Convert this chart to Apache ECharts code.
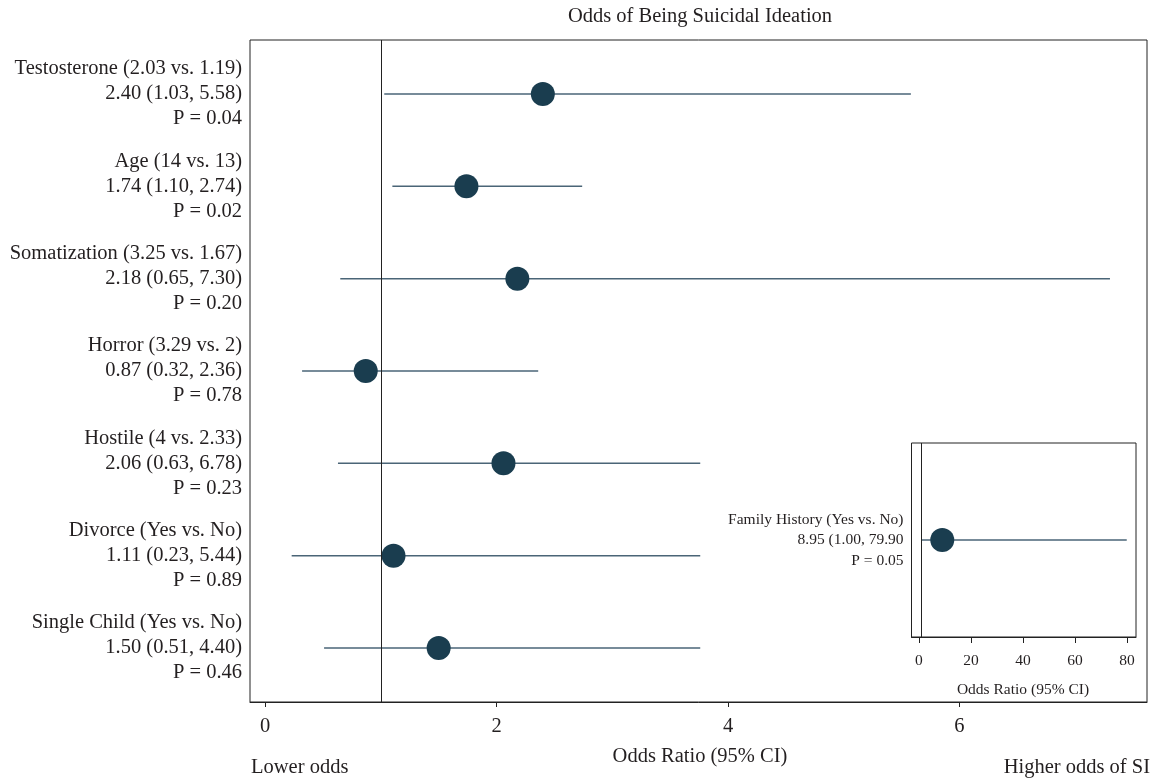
<!DOCTYPE html>
<html>
<head>
<meta charset="utf-8">
<script src="https://cdn.jsdelivr.net/npm/echarts@6/dist/echarts.min.js"></script>
<style>html,body{margin:0;padding:0;background:#fff}#c{width:1156px;height:780px}</style>
</head>
<body>
<div id="c"></div>
<script>
const rowNames = ['Testosterone (2.03 vs. 1.19)', 'Age (14 vs. 13)', 'Somatization (3.25 vs. 1.67)', 'Horror (3.29 vs. 2)', 'Hostile (4 vs. 2.33)', 'Divorce (Yes vs. No)', 'Single Child (Yes vs. No)'];
const oddsRatio = [2.40, 1.74, 2.18, 0.87, 2.06, 1.11, 1.50];
const ciLower = [1.03, 1.10, 0.65, 0.32, 0.63, 0.23, 0.51];
const ciUpper = [5.58, 2.74, 7.30, 2.36, 6.78, 5.44, 4.40];
const drawnUpper = [5.58, 2.74, 7.30, 2.36, 3.76, 3.76, 3.76];
const pValues = ['0.04', '0.02', '0.20', '0.78', '0.23', '0.89', '0.46'];
const mainTicks = [0, 2, 4, 6];

const insetName = 'Family History (Yes vs. No)';
const insetOR = 8.95;
const insetLower = 1.00;
const insetUpper = 79.90;
const insetP = '0.05';
const insetTicks = [0, 20, 40, 60, 80];

const FONT = "'Liberation Serif', 'DejaVu Serif', serif";
const TXT = '#231f20';
const DOT = '#1a3d4f';
const BAR = '#4a6577';
const FS = 20.5;
const FSI = 15.5;

const chart = echarts.init(document.getElementById('c'), null, {renderer: 'canvas'});

function barRender(params, api) {
  const y = api.value(2);
  const a = api.coord([api.value(0), y]);
  const b = api.coord([api.value(1), y]);
  return {type: 'line', shape: {x1: a[0], y1: a[1], x2: b[0], y2: b[1]}, style: {stroke: BAR, lineWidth: 1.5}};
}

const option = {
  animation: false,
  textStyle: {fontFamily: FONT, color: TXT},
  grid: [
    {left: 250, top: 40, width: 897, height: 662, show: true, borderColor: '#222', borderWidth: 1, backgroundColor: 'transparent'},
    {left: 911.5, top: 443, width: 224.5, height: 194, show: true, borderColor: '#222', borderWidth: 1, backgroundColor: '#fff'}
  ],
  xAxis: [
    {type: 'value', gridIndex: 0, min: -0.13, max: 7.62,
     axisLine: {show: true, onZero: false, lineStyle: {color: '#222'}},
     axisTick: {show: true, customValues: mainTicks, length: 5, lineStyle: {color: '#222'}},
     axisLabel: {customValues: mainTicks, fontSize: FS, fontFamily: FONT, color: TXT, margin: 14},
     splitLine: {show: false}},
    {type: 'value', gridIndex: 1, min: -2.88, max: 83.46,
     axisLine: {show: true, onZero: false, lineStyle: {color: '#222'}},
     axisTick: {show: true, customValues: insetTicks, length: 6, lineStyle: {color: '#222'}},
     axisLabel: {customValues: insetTicks, fontSize: FSI, fontFamily: FONT, color: TXT, margin: 16},
     splitLine: {show: false}}
  ],
  yAxis: [
    {type: 'value', gridIndex: 0, inverse: true, min: -0.585, max: 6.585,
     axisLine: {show: false, onZero: false}, axisTick: {show: false}, splitLine: {show: false},
     axisLabel: {customValues: [0, 1, 2, 3, 4, 5, 6], margin: 8, fontSize: FS, lineHeight: 25, fontFamily: FONT, color: TXT, align: 'right',
       formatter: function (v) {
         const i = Math.round(v);
         return rowNames[i] + '\n' + oddsRatio[i].toFixed(2) + ' (' + ciLower[i].toFixed(2) + ', ' + ciUpper[i].toFixed(2) + ')\nP = ' + pValues[i];
       }}},
    {type: 'value', gridIndex: 1, min: -1, max: 1,
     axisLine: {show: false, onZero: false}, axisTick: {show: false}, splitLine: {show: false},
     axisLabel: {customValues: [0], margin: 8, fontSize: FSI, lineHeight: 20.5, fontFamily: FONT, color: TXT, align: 'right',
       formatter: function () {
         return insetName + '\n' + insetOR.toFixed(2) + ' (' + insetLower.toFixed(2) + ', ' + insetUpper.toFixed(2) + '\nP = ' + insetP;
       }}}
  ],
  series: [
    {type: 'custom', xAxisIndex: 0, yAxisIndex: 0, renderItem: barRender, encode: {x: [0, 1], y: 2},
     data: rowNames.map((_, i) => [ciLower[i], drawnUpper[i], i]), z: 2},
    {type: 'scatter', xAxisIndex: 0, yAxisIndex: 0, symbolSize: 24, itemStyle: {color: DOT, opacity: 1},
     data: oddsRatio.map((v, i) => [v, i]), z: 3,
     markLine: {silent: true, symbol: ['none', 'none'], label: {show: false}, lineStyle: {color: '#222', width: 1, type: 'solid'}, data: [{xAxis: 1}]}},
    {type: 'custom', xAxisIndex: 1, yAxisIndex: 1, renderItem: barRender, encode: {x: [0, 1], y: 2},
     data: [[insetLower, insetUpper, 0]], z: 2},
    {type: 'scatter', xAxisIndex: 1, yAxisIndex: 1, symbolSize: 24, itemStyle: {color: DOT, opacity: 1},
     data: [[insetOR, 0]], z: 3,
     markLine: {silent: true, symbol: ['none', 'none'], label: {show: false}, lineStyle: {color: '#222', width: 1, type: 'solid'}, data: [{xAxis: 1}]}}
  ],
  graphic: [
    {type: 'text', x: 700, y: 17, style: {text: 'Odds of Being Suicidal Ideation', align: 'center', verticalAlign: 'middle', fontSize: FS, fontFamily: FONT, fill: TXT}},
    {type: 'text', x: 700, y: 757, style: {text: 'Odds Ratio (95% CI)', align: 'center', verticalAlign: 'middle', fontSize: FS, fontFamily: FONT, fill: TXT}},
    {type: 'text', x: 251, y: 768, style: {text: 'Lower odds', align: 'left', verticalAlign: 'middle', fontSize: FS, fontFamily: FONT, fill: TXT}},
    {type: 'text', x: 1150, y: 768, style: {text: 'Higher odds of SI', align: 'right', verticalAlign: 'middle', fontSize: FS, fontFamily: FONT, fill: TXT}},
    {type: 'text', x: 1023, y: 690, style: {text: 'Odds Ratio (95% CI)', align: 'center', verticalAlign: 'middle', fontSize: FSI, fontFamily: FONT, fill: TXT}}
  ]
};
chart.setOption(option);
</script>
</body>
</html>
